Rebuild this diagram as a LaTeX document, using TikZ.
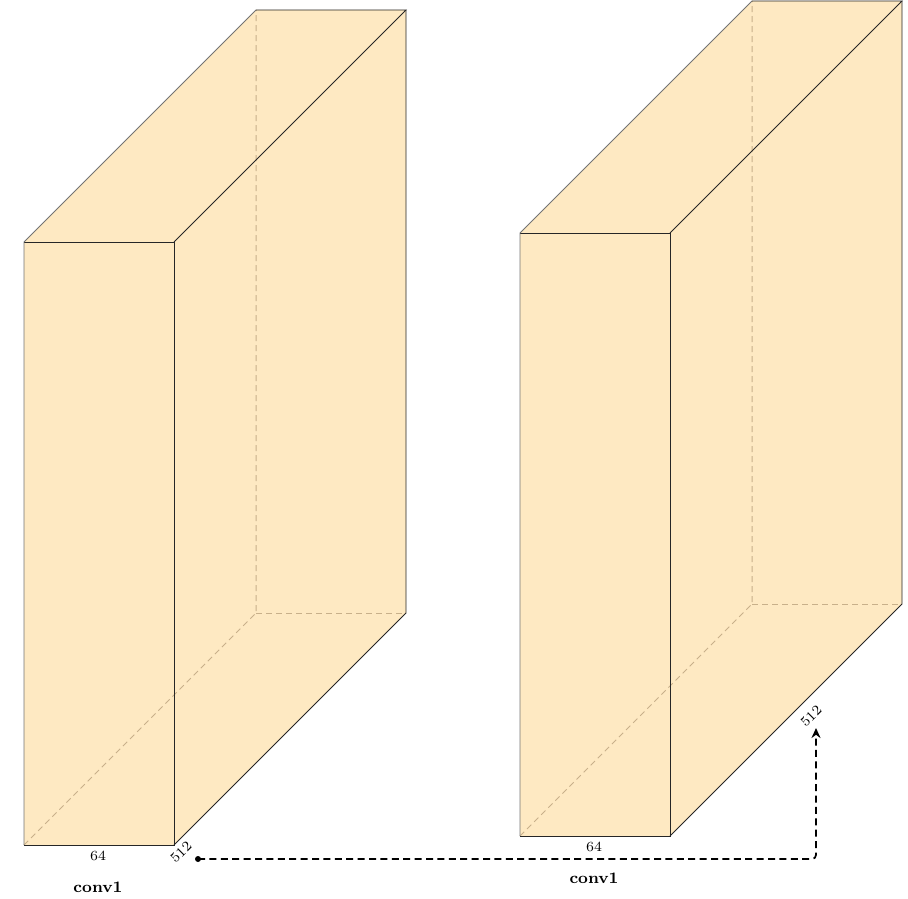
\documentclass[tikz,border=0pt]{standalone}
\usetikzlibrary{arrows.meta}
\definecolor{convfill}{RGB}{254,233,194}
\definecolor{hiddenedge}{RGB}{200,176,138}
\tikzset{
  edge/.style={draw=black!85, line width=0.45pt},
  softedge/.style={draw=black!55, line width=0.45pt},
  hid/.style={draw=hiddenedge, line width=0.5pt, dash pattern=on 3pt off 2pt},
  dimlab/.style={font=\scriptsize, inner sep=0pt},
  boxname/.style={font=\footnotesize\bfseries, inner sep=1pt},
  conn/.style={draw=black, line width=0.85pt, dash pattern=on 3.5pt off 2.2pt, rounded corners=2pt, -{Stealth[length=5pt,width=4.5pt]}},
  cuboid/.pic={
    \fill[convfill] (0,0) -- (150,0) -- (382,-232) -- (382,-835) -- (232,-835) -- (0,-603) -- cycle;
    \draw[hid] (0,0) -- (232,-232) -- (232,-835);
    \draw[hid] (232,-232) -- (382,-232);
    \draw[edge] (0,0) -- (150,0) -- (150,-603) -- (0,-603);
    \draw[softedge] (0,0) -- (0,-603) -- (232,-835);
    \draw[edge] (232,-835) -- (382,-835) -- (150,-603);
    \draw[edge] (382,-835) -- (382,-232) -- (150,0);
    \node[dimlab] (-w) at (74,11) {64};
    \node[boxname] (-name) at (74,42) {conv1};
  }
}
\begin{document}
\begin{tikzpicture}[x=0.5pt,y=-0.5pt]
\useasboundingbox (0,0) rectangle (908,898);
\pic (c1) at (24,845) {cuboid};
\pic (c2) at (520,836) {cuboid};
\node[dimlab, rotate=45] (d1) at (181,852) {512};
\node[dimlab, rotate=45] (d2) at (811,716) {512};
\coordinate (src) at (198,859);
\coordinate (dst) at (816,728);
\fill (src) circle (3);
\draw[conn] (src) -- (src -| dst) -- (dst);
\end{tikzpicture}
\end{document}
